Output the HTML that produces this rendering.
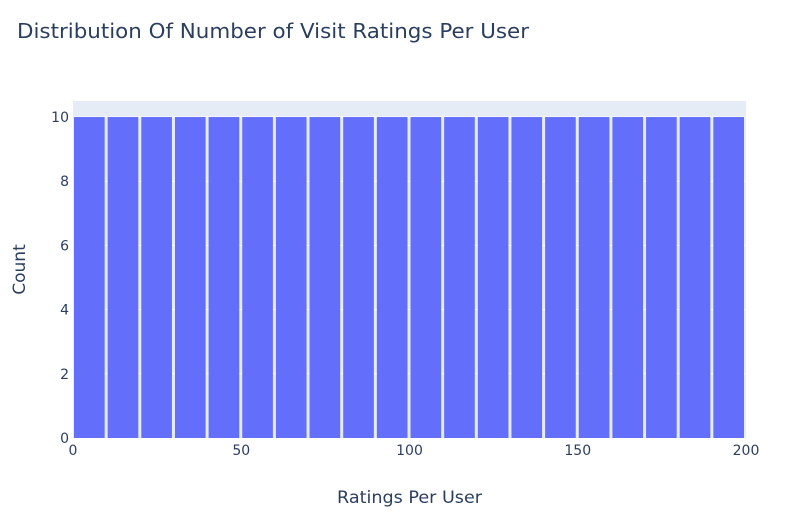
<!DOCTYPE html>
<html><head><meta charset="utf-8"><style>
body{margin:0;background:#fff;width:795px;height:520px;overflow:hidden}
text{font-family:"DejaVu Sans","Liberation Sans",sans-serif;fill:#2a3f5f}
</style></head><body>
<svg id="chart" width="795" height="520" xmlns="http://www.w3.org/2000/svg">
<text x="17" y="38" font-size="20" textLength="512" lengthAdjust="spacingAndGlyphs">Distribution Of Number of Visit Ratings Per User</text>
<rect x="73" y="101" width="673" height="337" fill="#E5ECF6"/>
<g id="grid"></g>
<g id="bars"></g>
<g id="ticks"></g>
<text x="409.5" y="503" font-size="17" text-anchor="middle" textLength="145" lengthAdjust="spacingAndGlyphs">Ratings Per User</text>
<text transform="translate(25,269.5) rotate(-90)" font-size="17" text-anchor="middle">Count</text>
</svg>
<script>
const binStarts=[0,10,20,30,40,50,60,70,80,90,100,110,120,130,140,150,160,170,180,190];
const counts=[10,10,10,10,10,10,10,10,10,10,10,10,10,10,10,10,10,10,10,10];
const binWidth=10;
const xTicks=[0,50,100,150,200];
const yTicks=[0,2,4,6,8,10];
const X0=73,X1=746,Y0=438,Y1=101,xMax=200,yMax=10.5;
const ns="http://www.w3.org/2000/svg";
const sx=v=>X0+(X1-X0)*v/xMax, sy=v=>Y0-(Y0-Y1)*v/yMax;
function mk(tag,attrs,parent){const e=document.createElementNS(ns,tag);for(const k in attrs)e.setAttribute(k,attrs[k]);document.getElementById(parent).appendChild(e);return e;}
yTicks.forEach(t=>{
 if(t>0){const l=mk('line',{x1:X0,x2:X1,y1:sy(t),y2:sy(t),stroke:'#fff','stroke-width':1},'grid');
 
 }
 const tx=mk('text',{x:X0-4,y:sy(t)+5,'font-size':14,'text-anchor':'end'},'ticks');tx.textContent=t;
 
 
});
xTicks.forEach(t=>{
 const tx=mk('text',{x:sx(t),y:Y0+17,'font-size':14,'text-anchor':'middle'},'ticks');tx.textContent=t;
 
 
});
binStarts.forEach((b,i)=>{
 const x=sx(b),w=sx(b+binWidth)-x;
 const r=mk('rect',{x:x+1,y:sy(counts[i]),width:w-3,height:Y0-sy(counts[i]),fill:'#636efa'},'bars');
 
 
});
</script>
</body></html>
